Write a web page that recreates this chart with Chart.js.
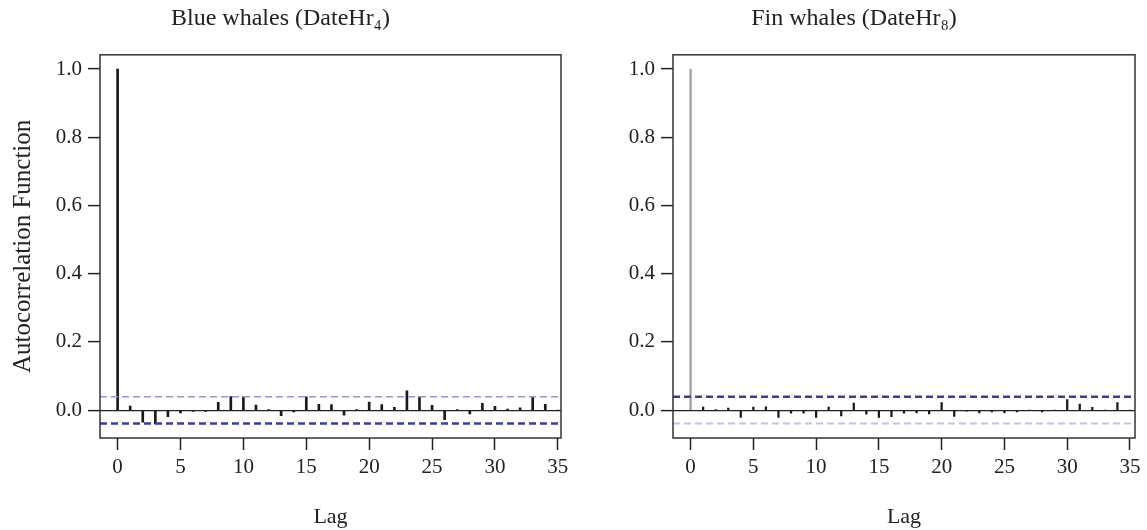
<!DOCTYPE html>
<html>
<head>
<meta charset="utf-8">
<script src="https://cdn.jsdelivr.net/npm/chart.js@4.4.1/dist/chart.umd.min.js"></script>
<style>
body{margin:0;background:#fff;width:1147px;height:530px;position:relative;overflow:hidden}
canvas{position:absolute;top:0}
#blueChart{left:0}
#finChart{left:573px}
</style>
</head>
<body>
<canvas id="blueChart" width="661" height="530"></canvas>
<canvas id="finChart" width="662" height="530"></canvas>
<script>
// lags and acf values
var lags = [0,1,2,3,4,5,6,7,8,9,10,11,12,13,14,15,16,17,18,19,20,21,22,23,24,25,26,27,28,29,30,31,32,33,34,35];
var blueAcf = [1.0,0.012,-0.035,-0.04,-0.019,-0.008,-0.004,-0.004,0.023,0.04,0.039,0.015,0.002,-0.016,-0.005,
               0.039,0.017,0.016,-0.015,0.002,0.024,0.016,0.008,0.057,0.039,0.014,-0.028,0.001,-0.011,0.02,
               0.011,0.003,0.007,0.039,0.017,0];
var finAcf = [1.0,0.009,0.001,0.006,-0.021,0.009,0.01,-0.021,-0.009,-0.009,-0.021,0.009,-0.017,0.021,-0.012,
              -0.021,-0.019,-0.009,-0.008,-0.011,0.022,-0.018,-0.003,-0.008,-0.005,-0.008,-0.005,0,-0.005,0,
              0.031,0.018,0.008,0,0.022,0];
var blueCi = 0.039;
var finCi = 0.039;
var lagTicks = [0,5,10,15,20,25,30,35];
var acfTicks = [0,0.2,0.4,0.6,0.8,1.0];
var blueXLim = [-1.4, 35.25];
var finXLim = [-1.4, 35.4];
var yLim = [-0.0816, 1.0416];

var serif = 'Liberation Serif';
var ink = '#222';
var dark = '#3b3d96';

var boxPlugin = {
    id: 'box',
    afterDraw: function(chart){
        var a = chart.chartArea, c = chart.ctx;
        c.save();
        c.strokeStyle = '#333';
        c.lineWidth = 1.5;
        c.strokeRect(a.left, a.top, a.right - a.left, a.bottom - a.top);
        c.restore();
    }
};

function makeChart(canvas, title, acf, ci, xLim, barWidth, zeroColor, upper, lower, yTitle){
    return new Chart(canvas, {
        data: {
            datasets: [
                {
                    type: 'bar',
                    data: lags.map(function(l, i){ return {x: l, y: acf[i]}; }),
                    backgroundColor: function(c){ return c.dataIndex === 0 ? zeroColor : '#1a1a1a'; },
                    barThickness: barWidth,
                    order: 1
                },
                {
                    type: 'line',
                    data: [{x: xLim[0], y: ci}, {x: xLim[1], y: ci}],
                    borderColor: upper.color, borderWidth: upper.width, borderDash: [7, 4],
                    pointRadius: 0, order: 0
                },
                {
                    type: 'line',
                    data: [{x: xLim[0], y: -ci}, {x: xLim[1], y: -ci}],
                    borderColor: lower.color, borderWidth: lower.width, borderDash: [7, 4],
                    pointRadius: 0, order: 0
                }
            ]
        },
        options: {
            responsive: false,
            animation: false,
            layout: {padding: {left: 0, right: 100, top: 0, bottom: 0}},
            plugins: {
                legend: {display: false},
                tooltip: {enabled: false},
                title: {
                    display: true, text: title, color: ink,
                    font: {family: serif, size: 24, weight: 'normal'},
                    padding: {top: 4, bottom: 22}
                }
            },
            scales: {
                x: {
                    type: 'linear', min: xLim[0], max: xLim[1], offset: false,
                    afterBuildTicks: function(s){ s.ticks = lagTicks.map(function(v){ return {value: v}; }); },
                    afterFit: function(s){ s.height = 92; },
                    grid: {drawOnChartArea: false, offset: false, tickLength: 12, tickColor: ink, tickWidth: 1.5},
                    border: {display: false},
                    ticks: {font: {family: serif, size: 21}, color: ink, padding: 5, maxRotation: 0},
                    title: {display: true, text: 'Lag', color: ink, font: {family: serif, size: 22}, padding: {top: 0, bottom: 0}}
                },
                y: {
                    type: 'linear', min: yLim[0], max: yLim[1],
                    afterBuildTicks: function(s){ s.ticks = acfTicks.map(function(v){ return {value: v}; }); },
                    afterFit: function(s){ s.width = 100; },
                    grid: {
                        color: function(c){ return c.tick && c.tick.value === 0 ? ink : 'rgba(0,0,0,0)'; },
                        lineWidth: 1.2, tickLength: 12, tickColor: ink, tickWidth: 1.5
                    },
                    border: {display: false},
                    ticks: {
                        font: {family: serif, size: 21}, color: ink, padding: 6,
                        callback: function(v){ return v.toFixed(1); }
                    },
                    title: {display: yTitle, text: 'Autocorrelation Function', color: ink, font: {family: serif, size: 25}, padding: {top: 8}}
                }
            }
        },
        plugins: [boxPlugin]
    });
}

makeChart(document.getElementById('blueChart'), 'Blue whales (DateHr\u2084)', blueAcf, blueCi, blueXLim, 2, '#1a1a1a',
    {color: '#9496d6', width: 1.5}, {color: dark, width: 2.5}, true);
makeChart(document.getElementById('finChart'), 'Fin whales (DateHr\u2088)', finAcf, finCi, finXLim, 1.6, '#a0a0a0',
    {color: dark, width: 2.5}, {color: '#c2c3e3', width: 2}, false);
</script>
</body>
</html>
